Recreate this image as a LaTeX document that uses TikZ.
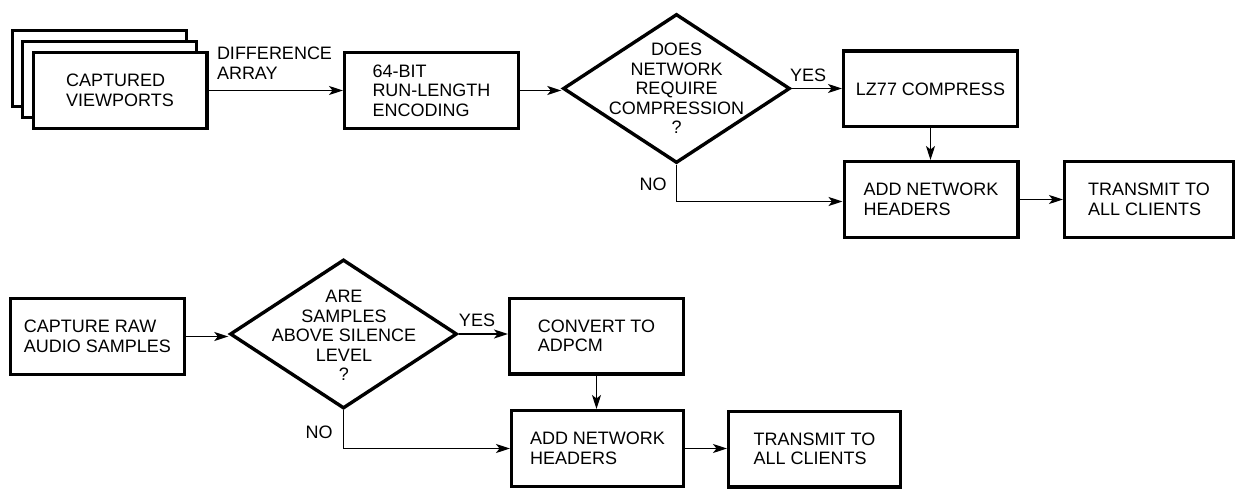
\documentclass[tikz,border=0pt]{standalone}
\usepackage{fontspec}
\setmainfont{Liberation Sans}
\usetikzlibrary{arrows.meta,shapes.geometric,calc}
\begin{document}
\begin{tikzpicture}[x=1pt,y=-1pt,
  every node/.style={font=\fontsize{18}{19.5}\selectfont},
  box/.style={draw, line width=3.4pt, rectangle, minimum width=173.6pt, minimum height=75.6pt, align=left, inner sep=0pt, fill=white},
  dec/.style={draw, line width=3.4pt, diamond, minimum width=227pt, minimum height=149pt, inner sep=0pt},
  conn/.style={line width=1.7pt, -{Stealth[length=14pt,width=9pt,inset=3.5pt]}},
  lbl/.style={inner sep=0pt, align=left}]
\useasboundingbox (0,0) rectangle (1237,489);

% ---------- top row ----------
\node[box] (cvback) at (99.5,68.5) {};
\node[box] (cvmid) at (109.5,79.5) {};
\node[box] (cv) at (120,90.5) {CAPTURED\\VIEWPORTS};
\node[box] (rle) at (431.5,90.5) {64-BIT\\RUN-LENGTH\\ENCODING};
\node[dec] (d1) at (676.5,88.5) {};
\node[align=center, inner sep=0pt] (d1t) at (d1) {DOES\\NETWORK\\REQUIRE\\COMPRESSION\\?};
\node[box] (lz) at (930.5,89) {LZ77 COMPRESS};
\node[box] (add1) at (931,199.5) {ADD NETWORK\\HEADERS};
\node[box, minimum width=168.6pt] (tx1) at (1149,199.5) {TRANSMIT TO\\ALL CLIENTS};

\draw[conn] (cv.east) -- (rle.west);
\node[lbl] (diffl) at (274.5,63) {DIFFERENCE\\ARRAY};
\draw[conn] (rle.east) -- (rle.east -| d1.west);
\draw[conn] (d1.east) -- (d1.east -| lz.west);
\node[lbl] (yes1) at (808,75) {YES};
\draw[conn] (lz.south) -- (lz.south |- add1.north);
\draw[conn] (d1.south) |- ($(add1.west)+(0,2)$);
\node[lbl] (no1) at (653,184) {NO};
\draw[conn] (add1.east) -- (tx1.west);

% ---------- bottom row ----------
\node[box] (cap) at (97.5,336.5) {CAPTURE RAW\\AUDIO SAMPLES};
\node[dec] (d2) at (343.5,334) {};
\node[align=center, inner sep=0pt] (d2t) at (344,335.5) {ARE\\SAMPLES\\ABOVE SILENCE\\LEVEL\\?};
\node[box] (conv) at (596.5,336) {CONVERT TO\\ADPCM};
\node[box, minimum width=171.6pt] (add2) at (597.5,448.5) {ADD NETWORK\\HEADERS};
\node[box, minimum width=171.6pt] (tx2) at (814.5,449) {TRANSMIT TO\\ALL CLIENTS};

\draw[conn] (cap.east) -- (cap.east -| d2.west);
\draw[conn] (d2.east) -- (d2.east -| conv.west);
\node[lbl] (yes2) at (477,320) {YES};
\draw[conn] (conv.south) -- (conv.south |- add2.north);
\draw[conn] (d2.south) |- (add2.west);
\node[lbl] (no2) at (319,432) {NO};
\draw[conn] (add2.east) -- (add2.east -| tx2.west);
\end{tikzpicture}
\end{document}
